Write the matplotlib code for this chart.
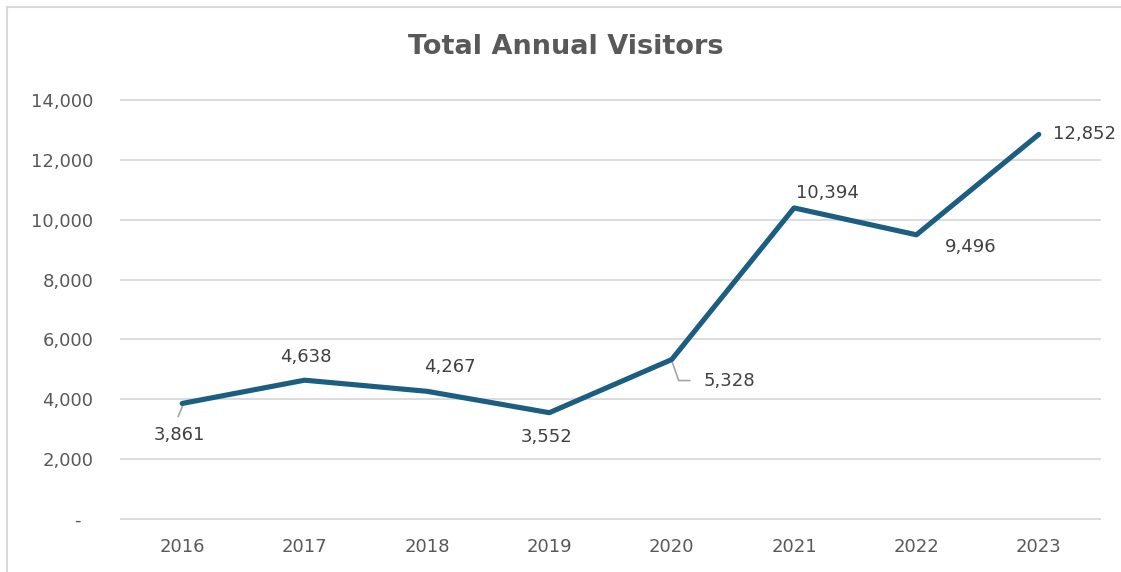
import matplotlib
matplotlib.use("Agg")
import matplotlib.pyplot as plt
from matplotlib.ticker import FuncFormatter
from matplotlib.lines import Line2D
from matplotlib.transforms import Affine2D, ScaledTranslation

years = ["2016", "2017", "2018", "2019", "2020", "2021", "2022", "2023"]
visitors = [3861, 4638, 4267, 3552, 5328, 10394, 9496, 12852]

# label offsets in pixels from each point (Excel placed them by hand)
label_offsets = [(-3, -32), (1, 23), (23, 24), (-3, -24), (58, -21), (33, 15), (54, -12), (46, 0)]
# leader lines (pixel vertices relative to the point)
leaders = {0: [(1, -1), (-4, -13)], 4: [(0, -1), (7, -21), (18, -21)]}

line_col = "#1b5e82"
grid_col = "#d9d9d9"
tick_col = "#595959"
lab_col = "#404040"

fig = plt.figure(figsize=(11.21, 5.72), dpi=100)
ax = fig.add_axes([121 / 1121, 1 - 519 / 572, 979 / 1121, 419 / 572])

x = list(range(len(years)))
ax.plot(x, visitors, color=line_col, lw=3.7, solid_joinstyle="round", solid_capstyle="round", zorder=3)

ax.set_xlim(-0.5, len(years) - 0.5)
ax.set_ylim(0, 14000)
ax.set_yticks(range(0, 14001, 2000))
ax.yaxis.set_major_formatter(FuncFormatter(lambda v, p: "-  " if v == 0 else f"{int(v):,}"))
ax.set_xticks(x)
ax.set_xticklabels(years)
ax.grid(axis="y", color=grid_col, lw=1.3)
ax.set_axisbelow(True)
for gl in ax.get_ygridlines():
    gl.set_clip_on(False)
for s in ax.spines.values():
    s.set_visible(False)
ax.tick_params(axis="both", length=0, labelsize=13, colors=tick_col)
ax.tick_params(axis="y", pad=20)
ax.tick_params(axis="x", pad=14)

for i, v in enumerate(visitors):
    dx, dy = label_offsets[i]
    ax.annotate(f"{v:,}", (i, v), xytext=(dx, dy), textcoords="offset pixels",
                ha="center", va="center", fontsize=13, color=lab_col, zorder=4)
    if i in leaders:
        pts = leaders[i]
        tr = Affine2D() + ScaledTranslation(i, v, ax.transData)
        ax.add_line(Line2D([p[0] for p in pts], [p[1] for p in pts], transform=tr,
                           color="#a6a6a6", lw=1.2, zorder=2))

fig.text(566 / 1121, 1 - 47 / 572, "Total Annual Visitors", ha="center", va="center",
         fontsize=19.5, fontweight="bold", color=tick_col)

# chart border (only top and left visible in the crop)
fig.add_artist(Line2D([7 / 1121, 7 / 1121], [0, 1 - 7 / 572], transform=fig.transFigure, color=grid_col, lw=1.5))
fig.add_artist(Line2D([7 / 1121, 1], [1 - 7 / 572, 1 - 7 / 572], transform=fig.transFigure, color=grid_col, lw=1.5))

fig.savefig("out.png", dpi=100)
